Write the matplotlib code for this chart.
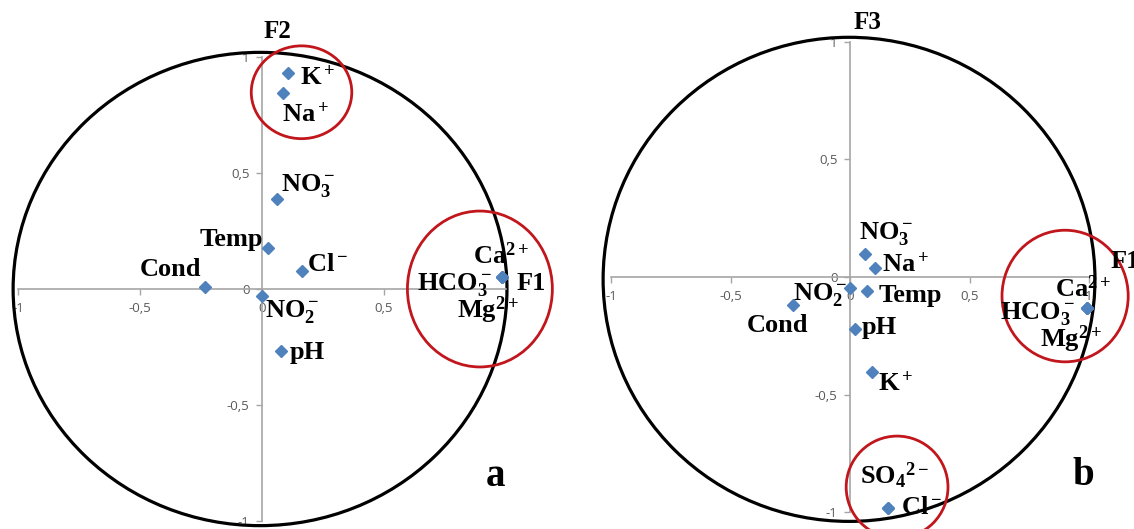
import matplotlib.pyplot as plt
from matplotlib.patches import Ellipse
from matplotlib.ticker import FuncFormatter

plt.rcParams['mathtext.fontset'] = 'custom'
plt.rcParams['mathtext.rm'] = 'Liberation Serif:bold'
plt.rcParams['mathtext.it'] = 'Liberation Serif:bold'
plt.rcParams['mathtext.bf'] = 'Liberation Serif:bold'

# panel a : F1 x F2
names_a = ['K$^+$', 'Na$^+$', 'NO$_3^-$', 'Temp', 'Cl$^-$', 'Cond', 'NO$_2^-$', 'pH',
           'Ca$^{2+}$', 'HCO$_3^-$', 'Mg$^{2+}$']
f1_a = [0.107, 0.086, 0.063, 0.026, 0.163, -0.234, 0.0, 0.078, 0.982, 0.982, 0.982]
f2_a = [0.93, 0.845, 0.388, 0.175, 0.079, 0.007, -0.029, -0.267, 0.053, 0.053, 0.053]

# panel b : F1 x F3
names_b = ['NO$_3^-$', 'Na$^+$', 'NO$_2^-$', 'Temp', 'Cond', 'pH', 'K$^+$',
           'SO$_4{}^{2-}$', 'Cl$^-$', 'Ca$^{2+}$', 'HCO$_3^-$', 'Mg$^{2+}$']
f1_b = [0.063, 0.104, 0.0, 0.073, -0.239, 0.021, 0.09, 0.16, 0.16, 0.993, 0.993, 0.993]
f3_b = [0.097, 0.04, -0.045, -0.061, -0.119, -0.223, -0.403, -0.985, -0.985,
        -0.133, -0.133, -0.133]

ticks = [-1, -0.5, 0, 0.5, 1]

# label offsets in pixels (dx, dy up, ha)
off_a = [(12, -11, 'left'), (-1, -29, 'left'), (4, 8, 'left'), (-5, 2, 'right'),
         (5, 0, 'left'), (-4, 11, 'right'), (3, -21, 'left'), (9, -8, 'left'),
         (-29, 13, 'left'), (-10, -13, 'right'), (-45, -41, 'left')]
off_b = [(-6, 15, 'left'), (7, -4, 'left'), (-3, -12, 'right'), (11, -11, 'left'),
         (-15, -27, 'center'), (7, -5, 'left'), (6, -19, 'left'), (-28, 24, 'left'),
         (13, -6, 'left'), (-32, 11, 'left'), (-12, -11, 'right'), (-47, -39, 'left')]

W, H = 1134, 529
fig = plt.figure(figsize=(W / 100, H / 100), dpi=100)


def place(ox, oy, ux, uy, xlim, ylim):
    left = ox + ux * xlim[0]
    right = ox + ux * xlim[1]
    top = oy - uy * ylim[1]
    bottom = oy - uy * ylim[0]
    ax = fig.add_axes([left / W, 1 - bottom / H, (right - left) / W, (bottom - top) / H])
    ax.set_xlim(xlim)
    ax.set_ylim(ylim)
    return ax


def style(ax, hide_x1=False):
    ax.patch.set_alpha(0)
    for s in ['top', 'right']:
        ax.spines[s].set_visible(False)
    for s in ['left', 'bottom']:
        ax.spines[s].set_position(('data', 0))
        ax.spines[s].set_bounds(-1, 1)
        ax.spines[s].set_color('#a6a6a6')
        ax.spines[s].set_linewidth(1.2)
    ax.set_xticks(ticks)
    ax.set_yticks(ticks)
    fmt = FuncFormatter(lambda v, p: ('%g' % v).replace('.', ','))
    # in panel a the "1" of F1 is hidden under the labels
    fmtx = FuncFormatter(lambda v, p: '' if (hide_x1 and v == 1) else ('%g' % v).replace('.', ','))
    ax.xaxis.set_major_formatter(fmtx)
    ax.yaxis.set_major_formatter(fmt)
    ax.tick_params(direction='out', length=4, width=1, color='#a6a6a6',
                   labelsize=9.5, labelcolor='#595959', pad=5)
    for lab in ax.get_xticklabels() + ax.get_yticklabels():
        lab.set_fontfamily('Open Sans')


def draw(ax, xs, ys, names, offs, black, reds, hide_x1=False):
    style(ax, hide_x1)
    ax.add_patch(Ellipse(black[:2], 2 * black[2], 2 * black[3], fill=False,
                         ec='black', lw=2.3, clip_on=False, zorder=2))
    for c in reds:
        ax.add_patch(Ellipse(c[:2], 2 * c[2], 2 * c[3], fill=False,
                             ec='#c0161c', lw=2.0, clip_on=False, zorder=4))
    ax.plot(xs, ys, 'D', color='#4f81bd', ms=6, ls='none', zorder=3, clip_on=False)
    for x, y, n, (dx, dy, ha) in zip(xs, ys, names, offs):
        ax.annotate(n, (x, y), xytext=(dx, dy), textcoords='offset pixels',
                    ha=ha, va='baseline', fontsize=19, fontweight='bold',
                    fontfamily='Liberation Serif', zorder=5, annotation_clip=False)


ax1 = place(262, 289, 244, 232, (-1.07, 1.2), (-1.035, 1.2))
draw(ax1, f1_a, f2_a, names_a, off_a, (-0.008, 0, 1.012, 1.02),
     [(0.162, 0.848, 0.206, 0.2), (0.893, 0.0, 0.297, 0.336)], hide_x1=True)
ax1.text(0.005, 1.082, 'F2', fontsize=18, fontweight='bold', fontfamily='Liberation Serif',
         ha='left', va='baseline')
ax1.text(1.044, -0.005, 'F1', fontsize=19, fontweight='bold', fontfamily='Liberation Serif',
         ha='left', va='baseline', zorder=5)
ax1.text(0.955, -0.85, 'a', fontsize=28, fontweight='bold', fontfamily='Liberation Serif',
         ha='center', va='baseline')

ax2 = place(850, 277, 239, 235, (-1.05, 1.18), (-1.07, 1.15))
draw(ax2, f1_b, f3_b, names_b, off_b, (-0.004, -0.01, 1.029, 1.03),
     [(0.90, -0.081, 0.264, 0.28), (0.197, -0.894, 0.213, 0.217)])
ax2.text(0.013, 1.055, 'F3', fontsize=18, fontweight='bold', fontfamily='Liberation Serif',
         ha='left', va='baseline')
ax2.text(1.092, 0.038, 'F1', fontsize=19, fontweight='bold', fontfamily='Liberation Serif',
         ha='left', va='baseline', zorder=5)
ax2.text(0.976, -0.885, 'b', fontsize=28, fontweight='bold', fontfamily='Liberation Serif',
         ha='center', va='baseline')

fig.savefig('out.png', dpi=100)
